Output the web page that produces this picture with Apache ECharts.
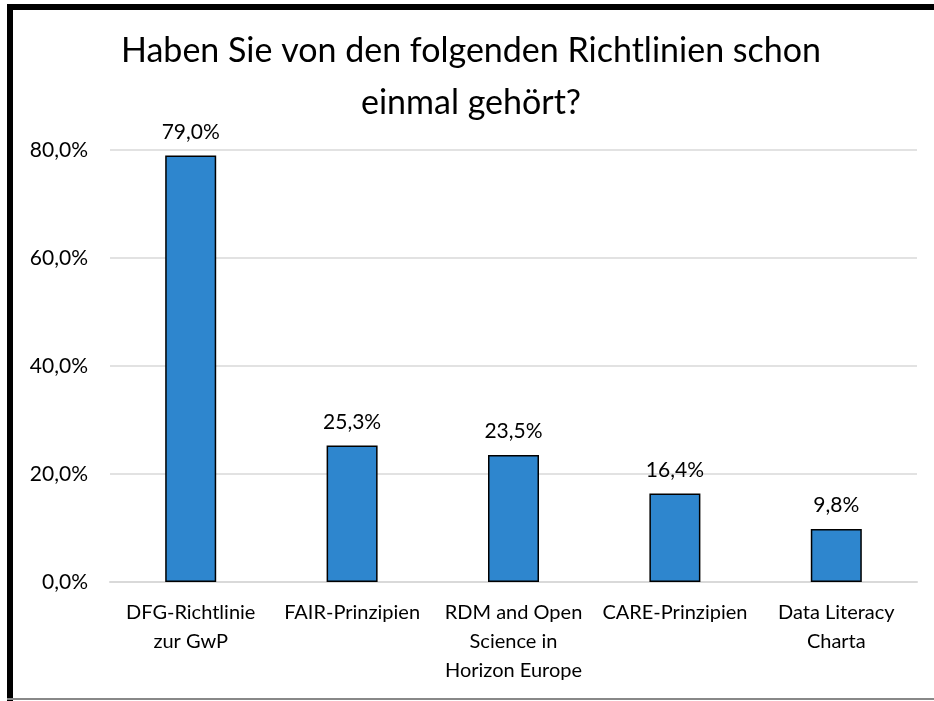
<!DOCTYPE html>
<html>
<head>
<meta charset="utf-8">
<script src="https://cdn.jsdelivr.net/npm/echarts@6/dist/echarts.min.js"></script>
<style>
  html, body { margin: 0; padding: 0; background: #fff; }
  #chart { width: 934px; height: 701px; }
</style>
</head>
<body>
<div id="chart"></div>
<script>
// Kategorien und Werte (in %)
const categories = [
  'DFG-Richtlinie\nzur GwP',
  'FAIR-Prinzipien',
  'RDM and Open\nScience in\nHorizon Europe',
  'CARE-Prinzipien',
  'Data Literacy\nCharta'
];
const values = [79.0, 25.3, 23.5, 16.4, 9.8];
const yTicks = [0, 20, 40, 60, 80];

const fontFam = 'Lato, "Open Sans", sans-serif';
const pct = v => v.toFixed(1).replace('.', ',') + '%';

const chart = echarts.init(document.getElementById('chart'));
chart.setOption({
  animation: false,
  backgroundColor: '#fff',
  title: {
    text: 'Haben Sie von den folgenden Richtlinien schon\neinmal gehört?',
    left: 466,
    top: 20,
    textAlign: 'center',
    textStyle: {
      fontFamily: fontFam,
      fontSize: 34,
      fontWeight: 'normal',
      color: '#000',
      lineHeight: 52,
      align: 'center'
    }
  },
  grid: { left: 110, right: 17, top: 150, bottom: 119 },
  xAxis: {
    type: 'category',
    data: categories,
    axisTick: { show: false },
    axisLine: { lineStyle: { color: '#d9d9d9', width: 2 } },
    axisLabel: {
      interval: 0,
      margin: 16,
      color: '#000',
      fontFamily: fontFam,
      fontSize: 20,
      lineHeight: 29
    }
  },
  yAxis: {
    type: 'value',
    min: yTicks[0],
    max: yTicks[yTicks.length - 1],
    interval: 20,
    axisLine: { show: false },
    axisTick: { show: false },
    splitLine: { lineStyle: { color: '#d9d9d9', width: 1.5 } },
    axisLabel: {
      margin: 22,
      color: '#000',
      fontFamily: fontFam,
      fontSize: 21,
      formatter: pct
    }
  },
  series: [{
    type: 'bar',
    data: values,
    barWidth: 51,
    itemStyle: { color: '#2E86CE', borderColor: '#000', borderWidth: 1.5 },
    label: {
      show: true,
      position: 'top',
      distance: 13,
      color: '#000',
      fontFamily: fontFam,
      fontSize: 21,
      formatter: p => pct(p.value)
    }
  }],
  graphic: [
    // Rahmen links, oben, unten
    { type: 'rect', shape: { x: 7, y: 4, width: 6, height: 697 }, style: { fill: '#000' } },
    { type: 'rect', shape: { x: 7, y: 4, width: 927, height: 6 }, style: { fill: '#000' } },
    { type: 'rect', shape: { x: 7, y: 698, width: 927, height: 2 }, style: { fill: '#888' } }
  ]
});
</script>
</body>
</html>
